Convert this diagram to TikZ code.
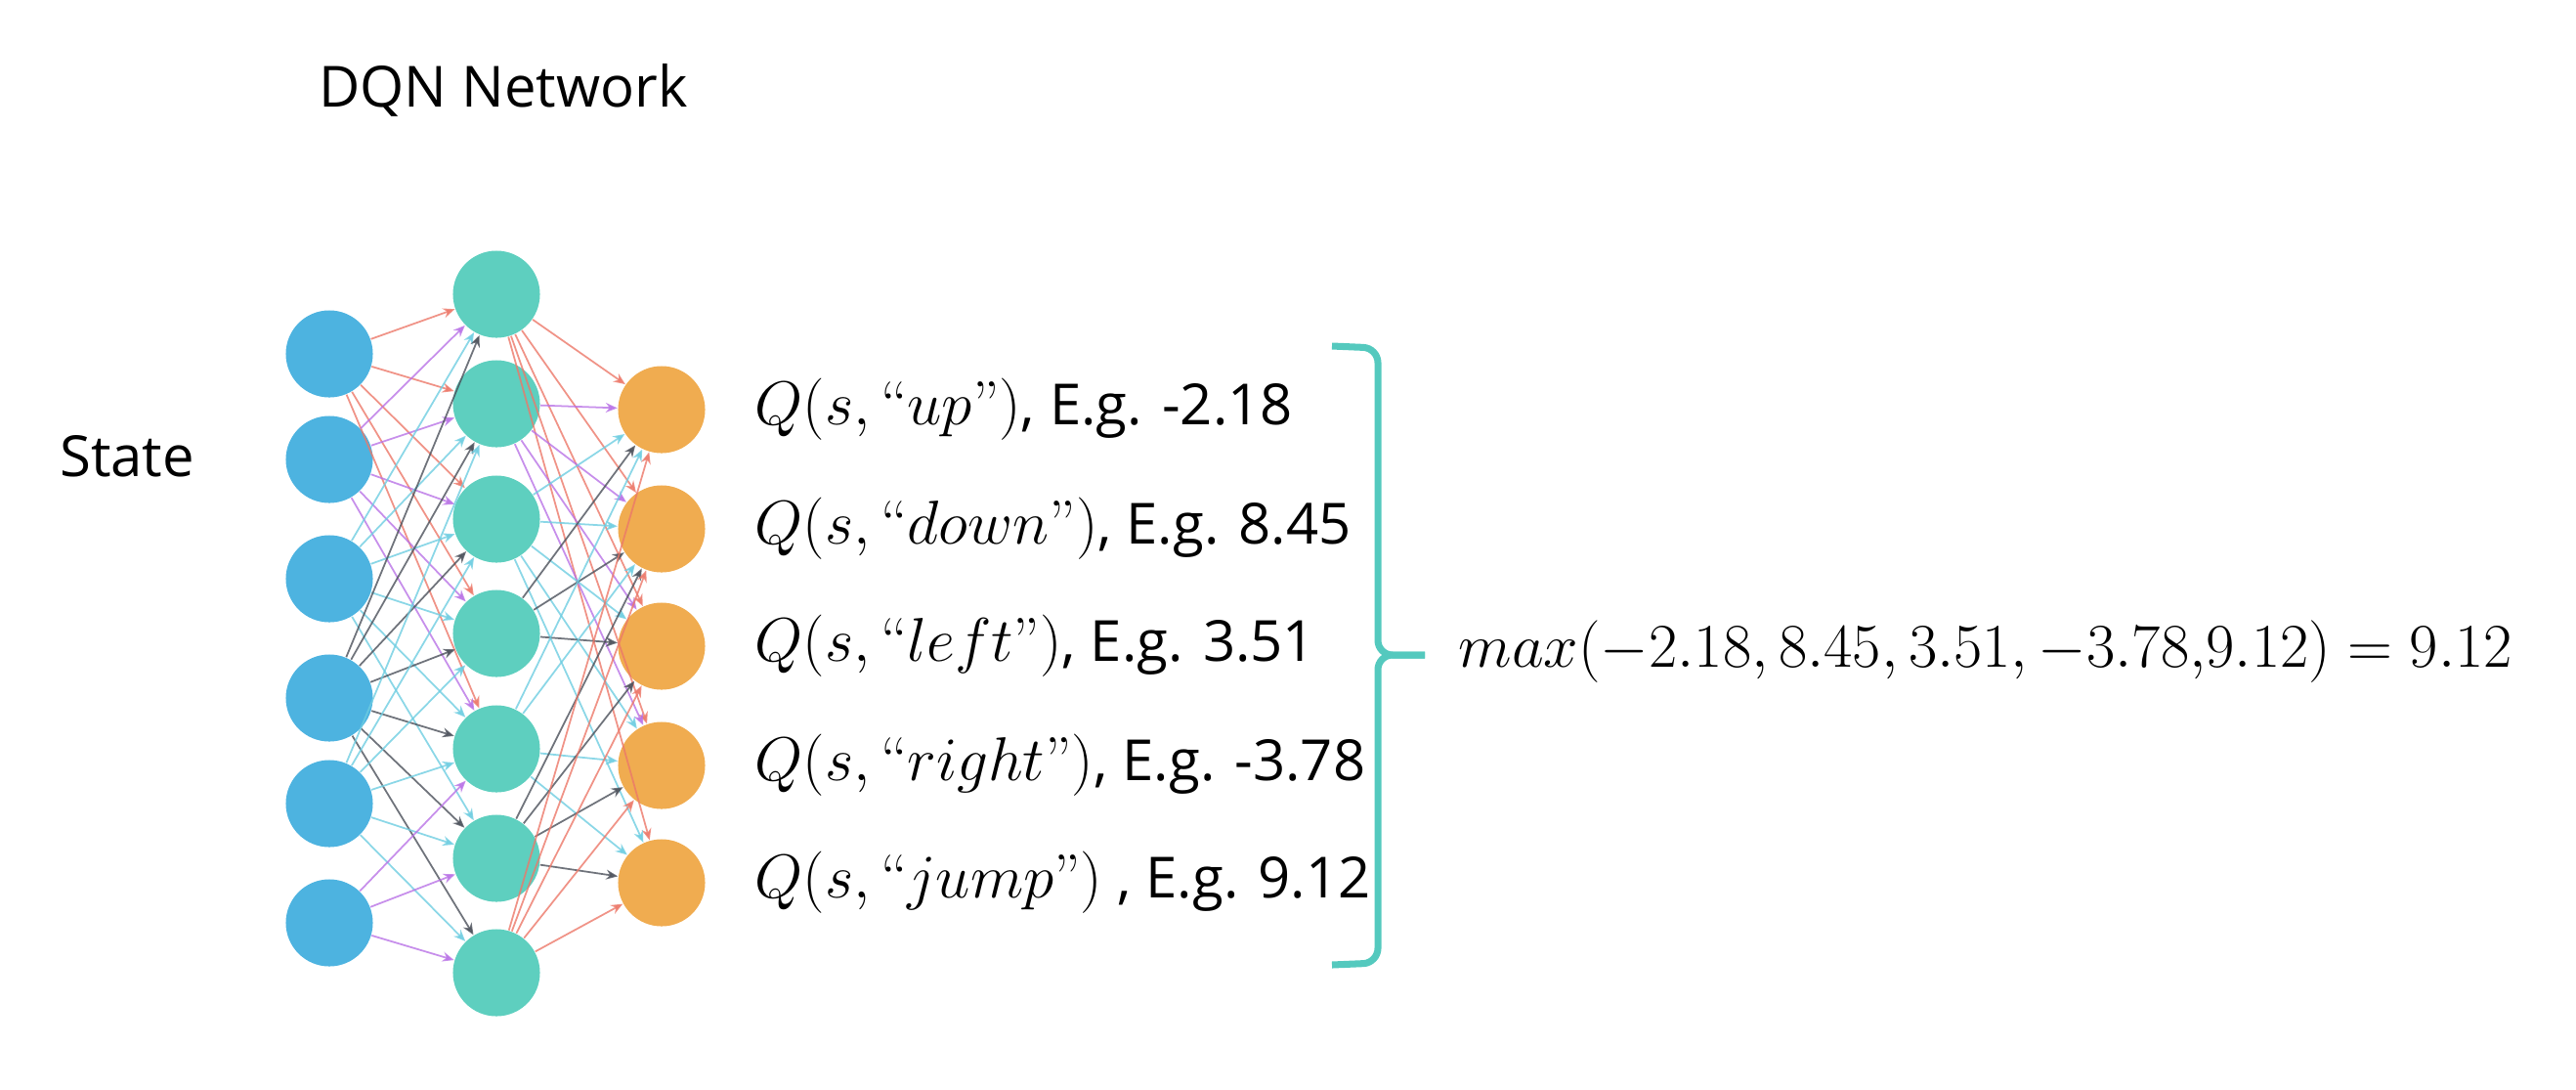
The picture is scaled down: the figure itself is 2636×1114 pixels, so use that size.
\RequirePackage{fix-cm}
\documentclass[tikz,border=0pt]{standalone}
\usepackage{fontspec}
\newfontfamily\osans{Open Sans}
\usepackage{tikz}
\usetikzlibrary{positioning,arrows.meta}

\definecolor{inblue}{RGB}{77,179,224}
\definecolor{hidgreen}{RGB}{94,207,191}
\definecolor{outorange}{RGB}{240,172,80}
\definecolor{bracecol}{RGB}{84,201,190}
\definecolor{wred}{RGB}{236,120,105}
\definecolor{wpurple}{RGB}{185,115,230}
\definecolor{wcyan}{RGB}{110,205,225}
\definecolor{wgray}{RGB}{75,80,90}

% math part of the Q labels, a bit larger than the text
\newcommand{\qmath}[1]{{\fontsize{18}{22}\selectfont$Q(s,\mbox{\rmfamily``}#1\mbox{\rmfamily''})$}}

\begin{document}
\begin{tikzpicture}[x=0.01cm, y=-0.01cm,
        neuron/.style={circle, minimum size=0.89cm, inner sep=0pt},
        inp/.style={neuron, fill=inblue},
        hid/.style={neuron, fill=hidgreen},
        outp/.style={neuron, fill=outorange},
        wire/.style={-{Stealth[length=1.2mm, width=1mm]}, line width=0.5pt, opacity=0.8},
        txt/.style={font=\osans\fontsize{16.5}{20}\selectfont, inner sep=0pt},
        bracket/.style={bracecol, line width=2pt, rounded corners=0.15cm}]
        \useasboundingbox (0,0) rectangle (2636,1114);

        %% Titles
        \node[txt] (title) at (515,92) {DQN Network};
        \node[txt] (state) at (130,467) {State};

        %% Input layer
        \node[inp] (i1) at (337,362) {};
        \node[inp] (i2) at (337,470) {};
        \node[inp] (i3) at (337,592) {};
        \node[inp] (i4) at (337,714) {};
        \node[inp] (i5) at (337,822) {};
        \node[inp] (i6) at (337,944) {};

        %% Hidden layer
        \node[hid] (h1) at (508,301) {};
        \node[hid] (h2) at (508,413) {};
        \node[hid] (h3) at (508,531) {};
        \node[hid] (h4) at (508,648) {};
        \node[hid] (h5) at (508,766) {};
        \node[hid] (h6) at (508,878) {};
        \node[hid] (h7) at (508,995) {};

        %% Output layer
        \node[outp] (o1) at (677,419) {};
        \node[outp] (o2) at (677,541) {};
        \node[outp] (o3) at (677,661) {};
        \node[outp] (o4) at (677,783) {};
        \node[outp] (o5) at (677,903) {};

        %% Input -> hidden
        \draw[wire, wred] (i1) edge (h1) edge (h2) edge (h3) edge (h4) edge (h5);
        \draw[wire, wpurple] (i2) edge (h1) edge (h2) edge (h3) edge (h4) edge (h5);
        \draw[wire, wcyan] (i3) edge (h1) edge (h2) edge (h3) edge (h4) edge (h5) edge (h6);
        \draw[wire, wgray] (i4) edge (h1) edge (h2) edge (h3) edge (h4) edge (h5) edge (h6) edge (h7);
        \draw[wire, wcyan] (i5) edge (h2) edge (h3) edge (h4) edge (h5) edge (h6) edge (h7);
        \draw[wire, wpurple] (i6) edge (h5) edge (h6) edge (h7);

        %% Hidden -> output
        \draw[wire, wred] (h1) edge (o1) edge (o2) edge (o3) edge (o4) edge (o5);
        \draw[wire, wpurple] (h2) edge (o1) edge (o2) edge (o3) edge (o4);
        \draw[wire, wcyan] (h3) edge (o1) edge (o2) edge (o3) edge (o4) edge (o5);
        \draw[wire, wgray] (h4) edge (o1) edge (o2) edge (o3);
        \draw[wire, wcyan] (h5) edge (o1) edge (o2) edge (o4) edge (o5);
        \draw[wire, wgray] (h6) edge (o2) edge (o3) edge (o4) edge (o5);
        \draw[wire, wred] (h7) edge (o1) edge (o2) edge (o3) edge (o4) edge (o5);

        %% Q values
        \node[txt, right=0.95cm of o1.center, anchor=west] (q1) {\qmath{up}, E.g. -2.18};
        \node[txt, right=0.95cm of o2.center, anchor=west] (q2) {\qmath{down}, E.g. 8.45};
        \node[txt, right=0.95cm of o3.center, anchor=west] (q3) {\qmath{left}, E.g. 3.51};
        \node[txt, right=0.95cm of o4.center, anchor=west] (q4) {\qmath{right}, E.g. -3.78};
        \node[txt, right=0.95cm of o5.center, anchor=west] (q5) {\qmath{jump} , E.g. 9.12};

        %% Brace and max
        \coordinate (btop) at (1363,354);
        \coordinate (bbot) at (1363,987);
        \coordinate (btip) at (1458,670);
        \draw[bracket] (btop) -- (1410,356) -- (1410,670) -- (btip);
        \draw[bracket] (bbot) -- (1410,985) -- (1410,670) -- (btip);
        \node[txt, font=\fontsize{18.1}{22}\selectfont, anchor=west] (maxv) at (1492,667) {$max(-2.18, 8.45, 3.51, -3.78{,}9.12) = 9.12$};
\end{tikzpicture}
\end{document}
